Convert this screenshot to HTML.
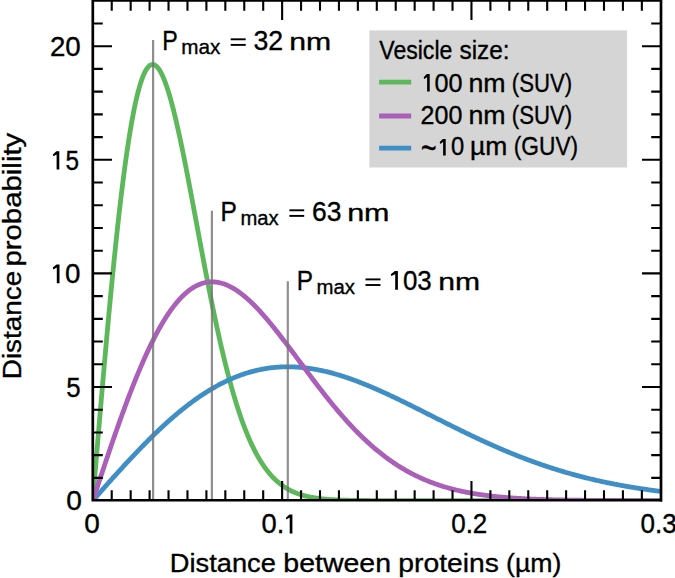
<!DOCTYPE html>
<html><head><meta charset="utf-8"><style>
html,body{margin:0;padding:0;background:#fff;}
body{width:675px;height:578px;overflow:hidden;font-family:"Liberation Sans",sans-serif;}
svg{display:block;}
</style></head><body>
<svg width="675" height="578" viewBox="0 0 675 578">
<rect width="675" height="578" fill="#fff"/>
<defs><clipPath id="pc"><rect x="92.8" y="0" width="568.2" height="500.3"/></clipPath></defs>
<g clip-path="url(#pc)">
<path d="M92.80,500.60 L93.75,489.23 L94.69,477.86 L95.64,466.51 L96.59,455.19 L97.53,443.90 L98.48,432.65 L99.43,421.45 L100.37,410.32 L101.32,399.25 L102.27,388.25 L103.21,377.34 L104.16,366.52 L105.11,355.80 L106.05,345.19 L107.00,334.69 L107.95,324.32 L108.89,314.07 L109.84,303.96 L110.79,294.00 L111.73,284.18 L112.68,274.53 L113.63,265.03 L114.57,255.71 L115.52,246.56 L116.47,237.59 L117.41,228.81 L118.36,220.23 L119.31,211.84 L120.25,203.65 L121.20,195.67 L122.15,187.90 L123.09,180.35 L124.04,173.02 L124.99,165.91 L125.93,159.03 L126.88,152.38 L127.83,145.97 L128.77,139.79 L129.72,133.84 L130.67,128.14 L131.61,122.68 L132.56,117.46 L133.51,112.49 L134.45,107.77 L135.40,103.29 L136.35,99.06 L137.29,95.08 L138.24,91.35 L139.19,87.87 L140.13,84.63 L141.08,81.64 L142.03,78.90 L142.97,76.40 L143.92,74.15 L144.87,72.14 L145.81,70.37 L146.76,68.84 L147.71,67.54 L148.65,66.48 L149.60,65.65 L150.55,65.05 L151.49,64.67 L152.44,64.52 L153.39,64.58 L154.33,64.86 L155.28,65.36 L156.23,66.06 L157.17,66.96 L158.12,68.07 L159.07,69.37 L160.01,70.86 L160.96,72.54 L161.91,74.40 L162.85,76.44 L163.80,78.65 L164.75,81.03 L165.69,83.57 L166.64,86.27 L167.59,89.13 L168.53,92.13 L169.48,95.28 L170.43,98.56 L171.37,101.98 L172.32,105.52 L173.27,109.19 L174.21,112.97 L175.16,116.86 L176.11,120.86 L177.05,124.96 L178.00,129.16 L178.95,133.45 L179.89,137.82 L180.84,142.27 L181.79,146.80 L182.73,151.39 L183.68,156.05 L184.63,160.78 L185.57,165.55 L186.52,170.38 L187.47,175.25 L188.41,180.16 L189.36,185.11 L190.30,190.09 L191.25,195.09 L192.20,200.12 L193.14,205.16 L194.09,210.22 L195.04,215.29 L195.98,220.37 L196.93,225.44 L197.88,230.52 L198.82,235.59 L199.77,240.65 L200.72,245.69 L201.66,250.72 L202.61,255.74 L203.56,260.72 L204.50,265.69 L205.45,270.62 L206.40,275.52 L207.34,280.39 L208.29,285.23 L209.24,290.02 L210.18,294.77 L211.13,299.48 L212.08,304.14 L213.02,308.75 L213.97,313.32 L214.92,317.83 L215.86,322.29 L216.81,326.69 L217.76,331.04 L218.70,335.33 L219.65,339.56 L220.60,343.73 L221.54,347.84 L222.49,351.89 L223.44,355.87 L224.38,359.79 L225.33,363.65 L226.28,367.43 L227.22,371.16 L228.17,374.82 L229.12,378.41 L230.06,381.93 L231.01,385.38 L231.96,388.77 L232.90,392.09 L233.85,395.35 L234.80,398.53 L235.74,401.65 L236.69,404.70 L237.64,407.69 L238.58,410.61 L239.53,413.46 L240.48,416.25 L241.42,418.97 L242.37,421.62 L243.32,424.22 L244.26,426.75 L245.21,429.21 L246.16,431.61 L247.10,433.96 L248.05,436.24 L249.00,438.46 L249.94,440.62 L250.89,442.72 L251.84,444.76 L252.78,446.75 L253.73,448.68 L254.68,450.56 L255.62,452.38 L256.57,454.15 L257.52,455.87 L258.46,457.54 L259.41,459.15 L260.36,460.72 L261.30,462.24 L262.25,463.71 L263.20,465.13 L264.14,466.51 L265.09,467.84 L266.04,469.14 L266.98,470.38 L267.93,471.59 L268.88,472.76 L269.82,473.89 L270.77,474.97 L271.72,476.03 L272.66,477.04 L273.61,478.02 L274.56,478.96 L275.50,479.87 L276.45,480.75 L277.40,481.60 L278.34,482.41 L279.29,483.20 L280.24,483.95 L281.18,484.68 L282.13,485.38 L283.08,486.05 L284.02,486.70 L284.97,487.32 L285.92,487.92 L286.86,488.49 L287.81,489.04 L288.76,489.57 L289.70,490.08 L290.65,490.57 L291.60,491.03 L292.54,491.48 L293.49,491.91 L294.44,492.32 L295.38,492.72 L296.33,493.09 L297.28,493.46 L298.22,493.80 L299.17,494.13 L300.12,494.45 L301.06,494.75 L302.01,495.04 L302.96,495.32 L303.90,495.58 L304.85,495.83 L305.80,496.07 L306.74,496.30 L307.69,496.52 L308.64,496.73 L309.58,496.93 L310.53,497.12 L311.48,497.30 L312.42,497.47 L313.37,497.64 L314.32,497.79 L315.26,497.94 L316.21,498.08 L317.16,498.22 L318.10,498.35 L319.05,498.47 L320.00,498.58 L320.94,498.69 L321.89,498.80 L322.84,498.90 L323.78,498.99 L324.73,499.08 L325.68,499.16 L326.62,499.24 L327.57,499.32 L328.52,499.39 L329.46,499.46 L330.41,499.53 L331.36,499.59 L332.30,499.65 L333.25,499.70 L334.20,499.75 L335.14,499.80 L336.09,499.85 L337.04,499.89 L337.98,499.94 L338.93,499.97 L339.88,500.01 L340.82,500.05 L341.77,500.08 L342.72,500.11 L343.66,500.14 L344.61,500.17 L345.56,500.20 L346.50,500.22 L347.45,500.24 L348.40,500.27 L349.34,500.29 L350.29,500.31 L351.24,500.32 L352.18,500.34 L353.13,500.36 L354.08,500.37 L355.02,500.39 L355.97,500.40 L356.92,500.41 L357.86,500.43 L358.81,500.44 L359.76,500.45 L360.70,500.46 L361.65,500.47 L362.60,500.48 L363.54,500.48 L364.49,500.49 L365.44,500.50 L366.38,500.51 L367.33,500.51 L368.28,500.52 L369.22,500.52 L370.17,500.53 L371.12,500.53 L372.06,500.54 L373.01,500.54 L373.96,500.55 L374.90,500.55 L375.85,500.55 L376.80,500.56 L377.74,500.56 L378.69,500.56 L379.63,500.56 L380.58,500.57 L381.53,500.57 L382.47,500.57 L383.42,500.57 L384.37,500.58 L385.31,500.58 L386.26,500.58 L387.21,500.58 L388.15,500.58 L389.10,500.58 L390.05,500.58 L390.99,500.59 L391.94,500.59 L392.89,500.59 L393.83,500.59 L394.78,500.59 L395.73,500.59 L396.67,500.59 L397.62,500.59 L398.57,500.59 L399.51,500.59 L400.46,500.59 L401.41,500.59 L402.35,500.59 L403.30,500.59 L404.25,500.60 L405.19,500.60 L406.14,500.60 L407.09,500.60 L408.03,500.60 L408.98,500.60 L409.93,500.60 L410.87,500.60 L411.82,500.60 L412.77,500.60 L413.71,500.60 L414.66,500.60 L415.61,500.60 L416.55,500.60 L417.50,500.60 L418.45,500.60 L419.39,500.60 L420.34,500.60 L421.29,500.60 L422.23,500.60 L423.18,500.60 L424.13,500.60 L425.07,500.60 L426.02,500.60 L426.97,500.60 L427.91,500.60 L428.86,500.60 L429.81,500.60 L430.75,500.60 L431.70,500.60 L432.65,500.60 L433.59,500.60 L434.54,500.60 L435.49,500.60 L436.43,500.60 L437.38,500.60 L438.33,500.60 L439.27,500.60 L440.22,500.60 L441.17,500.60 L442.11,500.60 L443.06,500.60 L444.01,500.60 L444.95,500.60 L445.90,500.60 L446.85,500.60 L447.79,500.60 L448.74,500.60 L449.69,500.60 L450.63,500.60 L451.58,500.60 L452.53,500.60 L453.47,500.60 L454.42,500.60 L455.37,500.60 L456.31,500.60 L457.26,500.60 L458.21,500.60 L459.15,500.60 L460.10,500.60 L461.05,500.60 L461.99,500.60 L462.94,500.60 L463.89,500.60 L464.83,500.60 L465.78,500.60 L466.73,500.60 L467.67,500.60 L468.62,500.60 L469.57,500.60 L470.51,500.60 L471.46,500.60 L472.41,500.60 L473.35,500.60 L474.30,500.60 L475.25,500.60 L476.19,500.60 L477.14,500.60 L478.09,500.60 L479.03,500.60 L479.98,500.60 L480.93,500.60 L481.87,500.60 L482.82,500.60 L483.77,500.60 L484.71,500.60 L485.66,500.60 L486.61,500.60 L487.55,500.60 L488.50,500.60 L489.45,500.60 L490.39,500.60 L491.34,500.60 L492.29,500.60 L493.23,500.60 L494.18,500.60 L495.13,500.60 L496.07,500.60 L497.02,500.60 L497.97,500.60 L498.91,500.60 L499.86,500.60 L500.81,500.60 L501.75,500.60 L502.70,500.60 L503.65,500.60 L504.59,500.60 L505.54,500.60 L506.49,500.60 L507.43,500.60 L508.38,500.60 L509.33,500.60 L510.27,500.60 L511.22,500.60 L512.17,500.60 L513.11,500.60 L514.06,500.60 L515.01,500.60 L515.95,500.60 L516.90,500.60 L517.85,500.60 L518.79,500.60 L519.74,500.60 L520.69,500.60 L521.63,500.60 L522.58,500.60 L523.53,500.60 L524.47,500.60 L525.42,500.60 L526.37,500.60 L527.31,500.60 L528.26,500.60 L529.21,500.60 L530.15,500.60 L531.10,500.60 L532.05,500.60 L532.99,500.60 L533.94,500.60 L534.89,500.60 L535.83,500.60 L536.78,500.60 L537.73,500.60 L538.67,500.60 L539.62,500.60 L540.57,500.60 L541.51,500.60 L542.46,500.60 L543.41,500.60 L544.35,500.60 L545.30,500.60 L546.25,500.60 L547.19,500.60 L548.14,500.60 L549.09,500.60 L550.03,500.60 L550.98,500.60 L551.93,500.60 L552.87,500.60 L553.82,500.60 L554.77,500.60 L555.71,500.60 L556.66,500.60 L557.61,500.60 L558.55,500.60 L559.50,500.60 L560.45,500.60 L561.39,500.60 L562.34,500.60 L563.29,500.60 L564.23,500.60 L565.18,500.60 L566.12,500.60 L567.07,500.60 L568.02,500.60 L568.96,500.60 L569.91,500.60 L570.86,500.60 L571.80,500.60 L572.75,500.60 L573.70,500.60 L574.64,500.60 L575.59,500.60 L576.54,500.60 L577.48,500.60 L578.43,500.60 L579.38,500.60 L580.32,500.60 L581.27,500.60 L582.22,500.60 L583.16,500.60 L584.11,500.60 L585.06,500.60 L586.00,500.60 L586.95,500.60 L587.90,500.60 L588.84,500.60 L589.79,500.60 L590.74,500.60 L591.68,500.60 L592.63,500.60 L593.58,500.60 L594.52,500.60 L595.47,500.60 L596.42,500.60 L597.36,500.60 L598.31,500.60 L599.26,500.60 L600.20,500.60 L601.15,500.60 L602.10,500.60 L603.04,500.60 L603.99,500.60 L604.94,500.60 L605.88,500.60 L606.83,500.60 L607.78,500.60 L608.72,500.60 L609.67,500.60 L610.62,500.60 L611.56,500.60 L612.51,500.60 L613.46,500.60 L614.40,500.60 L615.35,500.60 L616.30,500.60 L617.24,500.60 L618.19,500.60 L619.14,500.60 L620.08,500.60 L621.03,500.60 L621.98,500.60 L622.92,500.60 L623.87,500.60 L624.82,500.60 L625.76,500.60 L626.71,500.60 L627.66,500.60 L628.60,500.60 L629.55,500.60 L630.50,500.60 L631.44,500.60 L632.39,500.60 L633.34,500.60 L634.28,500.60 L635.23,500.60 L636.18,500.60 L637.12,500.60 L638.07,500.60 L639.02,500.60 L639.96,500.60 L640.91,500.60 L641.86,500.60 L642.80,500.60 L643.75,500.60 L644.70,500.60 L645.64,500.60 L646.59,500.60 L647.54,500.60 L648.48,500.60 L649.43,500.60 L650.38,500.60 L651.32,500.60 L652.27,500.60 L653.22,500.60 L654.16,500.60 L655.11,500.60 L656.06,500.60 L657.00,500.60 L657.95,500.60 L658.90,500.60 L659.84,500.60 L660.79,500.60" fill="none" stroke="#5cb85a" stroke-width="4.8" stroke-linejoin="round"/>
<path d="M92.80,500.60 L93.75,499.53 L94.69,498.46 L95.64,497.39 L96.59,496.32 L97.53,495.25 L98.48,494.18 L99.43,493.11 L100.37,492.04 L101.32,490.97 L102.27,489.90 L103.21,488.84 L104.16,487.77 L105.11,486.71 L106.05,485.64 L107.00,484.58 L107.95,483.52 L108.89,482.46 L109.84,481.40 L110.79,480.34 L111.73,479.28 L112.68,478.23 L113.63,477.18 L114.57,476.12 L115.52,475.07 L116.47,474.03 L117.41,472.98 L118.36,471.94 L119.31,470.89 L120.25,469.85 L121.20,468.82 L122.15,467.78 L123.09,466.75 L124.04,465.71 L124.99,464.69 L125.93,463.66 L126.88,462.64 L127.83,461.61 L128.77,460.60 L129.72,459.58 L130.67,458.57 L131.61,457.56 L132.56,456.55 L133.51,455.55 L134.45,454.55 L135.40,453.55 L136.35,452.56 L137.29,451.57 L138.24,450.58 L139.19,449.59 L140.13,448.61 L141.08,447.64 L142.03,446.66 L142.97,445.70 L143.92,444.73 L144.87,443.77 L145.81,442.81 L146.76,441.86 L147.71,440.91 L148.65,439.96 L149.60,439.02 L150.55,438.08 L151.49,437.15 L152.44,436.22 L153.39,435.30 L154.33,434.38 L155.28,433.46 L156.23,432.55 L157.17,431.65 L158.12,430.75 L159.07,429.85 L160.01,428.96 L160.96,428.07 L161.91,427.19 L162.85,426.31 L163.80,425.44 L164.75,424.57 L165.69,423.71 L166.64,422.86 L167.59,422.00 L168.53,421.16 L169.48,420.32 L170.43,419.48 L171.37,418.65 L172.32,417.83 L173.27,417.01 L174.21,416.20 L175.16,415.39 L176.11,414.59 L177.05,413.79 L178.00,413.00 L178.95,412.22 L179.89,411.44 L180.84,410.66 L181.79,409.90 L182.73,409.14 L183.68,408.38 L184.63,407.63 L185.57,406.89 L186.52,406.15 L187.47,405.42 L188.41,404.70 L189.36,403.98 L190.30,403.27 L191.25,402.56 L192.20,401.86 L193.14,401.17 L194.09,400.48 L195.04,399.80 L195.98,399.13 L196.93,398.46 L197.88,397.80 L198.82,397.15 L199.77,396.50 L200.72,395.86 L201.66,395.23 L202.61,394.60 L203.56,393.98 L204.50,393.37 L205.45,392.76 L206.40,392.16 L207.34,391.56 L208.29,390.98 L209.24,390.40 L210.18,389.82 L211.13,389.26 L212.08,388.70 L213.02,388.15 L213.97,387.60 L214.92,387.06 L215.86,386.53 L216.81,386.01 L217.76,385.49 L218.70,384.98 L219.65,384.47 L220.60,383.98 L221.54,383.49 L222.49,383.01 L223.44,382.53 L224.38,382.06 L225.33,381.60 L226.28,381.15 L227.22,380.70 L228.17,380.26 L229.12,379.83 L230.06,379.40 L231.01,378.99 L231.96,378.58 L232.90,378.17 L233.85,377.78 L234.80,377.39 L235.74,377.00 L236.69,376.63 L237.64,376.26 L238.58,375.90 L239.53,375.55 L240.48,375.20 L241.42,374.86 L242.37,374.53 L243.32,374.20 L244.26,373.89 L245.21,373.57 L246.16,373.27 L247.10,372.97 L248.05,372.69 L249.00,372.40 L249.94,372.13 L250.89,371.86 L251.84,371.60 L252.78,371.35 L253.73,371.10 L254.68,370.86 L255.62,370.63 L256.57,370.40 L257.52,370.18 L258.46,369.97 L259.41,369.77 L260.36,369.57 L261.30,369.38 L262.25,369.20 L263.20,369.02 L264.14,368.85 L265.09,368.69 L266.04,368.53 L266.98,368.39 L267.93,368.24 L268.88,368.11 L269.82,367.98 L270.77,367.86 L271.72,367.74 L272.66,367.64 L273.61,367.54 L274.56,367.44 L275.50,367.35 L276.45,367.27 L277.40,367.20 L278.34,367.13 L279.29,367.07 L280.24,367.01 L281.18,366.97 L282.13,366.92 L283.08,366.89 L284.02,366.86 L284.97,366.84 L285.92,366.82 L286.86,366.81 L287.81,366.81 L288.76,366.81 L289.70,366.82 L290.65,366.84 L291.60,366.86 L292.54,366.89 L293.49,366.92 L294.44,366.96 L295.38,367.01 L296.33,367.06 L297.28,367.12 L298.22,367.18 L299.17,367.25 L300.12,367.33 L301.06,367.41 L302.01,367.50 L302.96,367.59 L303.90,367.69 L304.85,367.80 L305.80,367.91 L306.74,368.03 L307.69,368.15 L308.64,368.28 L309.58,368.41 L310.53,368.55 L311.48,368.69 L312.42,368.84 L313.37,369.00 L314.32,369.16 L315.26,369.32 L316.21,369.50 L317.16,369.67 L318.10,369.85 L319.05,370.04 L320.00,370.23 L320.94,370.43 L321.89,370.63 L322.84,370.84 L323.78,371.05 L324.73,371.26 L325.68,371.49 L326.62,371.71 L327.57,371.94 L328.52,372.18 L329.46,372.42 L330.41,372.66 L331.36,372.91 L332.30,373.17 L333.25,373.42 L334.20,373.69 L335.14,373.95 L336.09,374.23 L337.04,374.50 L337.98,374.78 L338.93,375.07 L339.88,375.35 L340.82,375.65 L341.77,375.94 L342.72,376.24 L343.66,376.55 L344.61,376.86 L345.56,377.17 L346.50,377.48 L347.45,377.80 L348.40,378.13 L349.34,378.46 L350.29,378.79 L351.24,379.12 L352.18,379.46 L353.13,379.80 L354.08,380.15 L355.02,380.50 L355.97,380.85 L356.92,381.20 L357.86,381.56 L358.81,381.92 L359.76,382.29 L360.70,382.66 L361.65,383.03 L362.60,383.40 L363.54,383.78 L364.49,384.16 L365.44,384.54 L366.38,384.93 L367.33,385.32 L368.28,385.71 L369.22,386.11 L370.17,386.50 L371.12,386.90 L372.06,387.30 L373.01,387.71 L373.96,388.12 L374.90,388.53 L375.85,388.94 L376.80,389.35 L377.74,389.77 L378.69,390.19 L379.63,390.61 L380.58,391.03 L381.53,391.46 L382.47,391.89 L383.42,392.32 L384.37,392.75 L385.31,393.18 L386.26,393.62 L387.21,394.05 L388.15,394.49 L389.10,394.93 L390.05,395.38 L390.99,395.82 L391.94,396.27 L392.89,396.71 L393.83,397.16 L394.78,397.61 L395.73,398.07 L396.67,398.52 L397.62,398.97 L398.57,399.43 L399.51,399.89 L400.46,400.35 L401.41,400.81 L402.35,401.27 L403.30,401.73 L404.25,402.19 L405.19,402.66 L406.14,403.12 L407.09,403.59 L408.03,404.06 L408.98,404.52 L409.93,404.99 L410.87,405.46 L411.82,405.93 L412.77,406.40 L413.71,406.88 L414.66,407.35 L415.61,407.82 L416.55,408.30 L417.50,408.77 L418.45,409.25 L419.39,409.72 L420.34,410.20 L421.29,410.67 L422.23,411.15 L423.18,411.63 L424.13,412.10 L425.07,412.58 L426.02,413.06 L426.97,413.53 L427.91,414.01 L428.86,414.49 L429.81,414.97 L430.75,415.45 L431.70,415.92 L432.65,416.40 L433.59,416.88 L434.54,417.36 L435.49,417.83 L436.43,418.31 L437.38,418.79 L438.33,419.27 L439.27,419.74 L440.22,420.22 L441.17,420.69 L442.11,421.17 L443.06,421.64 L444.01,422.12 L444.95,422.59 L445.90,423.07 L446.85,423.54 L447.79,424.01 L448.74,424.49 L449.69,424.96 L450.63,425.43 L451.58,425.90 L452.53,426.37 L453.47,426.84 L454.42,427.31 L455.37,427.77 L456.31,428.24 L457.26,428.71 L458.21,429.17 L459.15,429.64 L460.10,430.10 L461.05,430.56 L461.99,431.02 L462.94,431.48 L463.89,431.94 L464.83,432.40 L465.78,432.86 L466.73,433.32 L467.67,433.77 L468.62,434.23 L469.57,434.68 L470.51,435.13 L471.46,435.58 L472.41,436.03 L473.35,436.48 L474.30,436.93 L475.25,437.37 L476.19,437.82 L477.14,438.26 L478.09,438.70 L479.03,439.14 L479.98,439.58 L480.93,440.02 L481.87,440.46 L482.82,440.89 L483.77,441.33 L484.71,441.76 L485.66,442.19 L486.61,442.62 L487.55,443.05 L488.50,443.48 L489.45,443.90 L490.39,444.33 L491.34,444.75 L492.29,445.17 L493.23,445.59 L494.18,446.01 L495.13,446.42 L496.07,446.84 L497.02,447.25 L497.97,447.66 L498.91,448.07 L499.86,448.48 L500.81,448.88 L501.75,449.29 L502.70,449.69 L503.65,450.09 L504.59,450.49 L505.54,450.89 L506.49,451.28 L507.43,451.68 L508.38,452.07 L509.33,452.46 L510.27,452.85 L511.22,453.24 L512.17,453.62 L513.11,454.01 L514.06,454.39 L515.01,454.77 L515.95,455.15 L516.90,455.52 L517.85,455.90 L518.79,456.27 L519.74,456.64 L520.69,457.01 L521.63,457.37 L522.58,457.74 L523.53,458.10 L524.47,458.46 L525.42,458.82 L526.37,459.18 L527.31,459.54 L528.26,459.89 L529.21,460.24 L530.15,460.59 L531.10,460.94 L532.05,461.29 L532.99,461.63 L533.94,461.97 L534.89,462.31 L535.83,462.65 L536.78,462.99 L537.73,463.32 L538.67,463.66 L539.62,463.99 L540.57,464.31 L541.51,464.64 L542.46,464.97 L543.41,465.29 L544.35,465.61 L545.30,465.93 L546.25,466.25 L547.19,466.56 L548.14,466.87 L549.09,467.19 L550.03,467.49 L550.98,467.80 L551.93,468.11 L552.87,468.41 L553.82,468.71 L554.77,469.01 L555.71,469.31 L556.66,469.60 L557.61,469.90 L558.55,470.19 L559.50,470.48 L560.45,470.77 L561.39,471.05 L562.34,471.34 L563.29,471.62 L564.23,471.90 L565.18,472.18 L566.12,472.45 L567.07,472.73 L568.02,473.00 L568.96,473.27 L569.91,473.54 L570.86,473.81 L571.80,474.07 L572.75,474.33 L573.70,474.60 L574.64,474.86 L575.59,475.11 L576.54,475.37 L577.48,475.62 L578.43,475.87 L579.38,476.12 L580.32,476.37 L581.27,476.62 L582.22,476.86 L583.16,477.10 L584.11,477.34 L585.06,477.58 L586.00,477.82 L586.95,478.05 L587.90,478.29 L588.84,478.52 L589.79,478.75 L590.74,478.98 L591.68,479.20 L592.63,479.43 L593.58,479.65 L594.52,479.87 L595.47,480.09 L596.42,480.31 L597.36,480.52 L598.31,480.74 L599.26,480.95 L600.20,481.16 L601.15,481.37 L602.10,481.57 L603.04,481.78 L603.99,481.98 L604.94,482.18 L605.88,482.38 L606.83,482.58 L607.78,482.78 L608.72,482.97 L609.67,483.17 L610.62,483.36 L611.56,483.55 L612.51,483.73 L613.46,483.92 L614.40,484.11 L615.35,484.29 L616.30,484.47 L617.24,484.65 L618.19,484.83 L619.14,485.01 L620.08,485.18 L621.03,485.36 L621.98,485.53 L622.92,485.70 L623.87,485.87 L624.82,486.04 L625.76,486.20 L626.71,486.37 L627.66,486.53 L628.60,486.69 L629.55,486.85 L630.50,487.01 L631.44,487.17 L632.39,487.32 L633.34,487.48 L634.28,487.63 L635.23,487.78 L636.18,487.93 L637.12,488.08 L638.07,488.23 L639.02,488.37 L639.96,488.52 L640.91,488.66 L641.86,488.80 L642.80,488.94 L643.75,489.08 L644.70,489.22 L645.64,489.36 L646.59,489.49 L647.54,489.62 L648.48,489.76 L649.43,489.89 L650.38,490.02 L651.32,490.15 L652.27,490.27 L653.22,490.40 L654.16,490.52 L655.11,490.65 L656.06,490.77 L657.00,490.89 L657.95,491.01 L658.90,491.13 L659.84,491.24 L660.79,491.36" fill="none" stroke="#3f8fc6" stroke-width="4.8" stroke-linejoin="round"/>
<path d="M92.80,500.60 L93.75,497.74 L94.69,494.88 L95.64,492.02 L96.59,489.16 L97.53,486.30 L98.48,483.45 L99.43,480.60 L100.37,477.75 L101.32,474.91 L102.27,472.07 L103.21,469.24 L104.16,466.41 L105.11,463.59 L106.05,460.78 L107.00,457.97 L107.95,455.17 L108.89,452.38 L109.84,449.60 L110.79,446.83 L111.73,444.07 L112.68,441.32 L113.63,438.58 L114.57,435.86 L115.52,433.14 L116.47,430.44 L117.41,427.75 L118.36,425.08 L119.31,422.41 L120.25,419.77 L121.20,417.13 L122.15,414.52 L123.09,411.92 L124.04,409.33 L124.99,406.77 L125.93,404.21 L126.88,401.68 L127.83,399.17 L128.77,396.67 L129.72,394.20 L130.67,391.74 L131.61,389.30 L132.56,386.88 L133.51,384.49 L134.45,382.11 L135.40,379.76 L136.35,377.43 L137.29,375.12 L138.24,372.83 L139.19,370.57 L140.13,368.33 L141.08,366.11 L142.03,363.92 L142.97,361.75 L143.92,359.60 L144.87,357.49 L145.81,355.39 L146.76,353.32 L147.71,351.28 L148.65,349.27 L149.60,347.28 L150.55,345.31 L151.49,343.38 L152.44,341.47 L153.39,339.59 L154.33,337.74 L155.28,335.91 L156.23,334.12 L157.17,332.35 L158.12,330.61 L159.07,328.90 L160.01,327.22 L160.96,325.57 L161.91,323.94 L162.85,322.35 L163.80,320.79 L164.75,319.25 L165.69,317.75 L166.64,316.28 L167.59,314.84 L168.53,313.42 L169.48,312.04 L170.43,310.69 L171.37,309.37 L172.32,308.08 L173.27,306.83 L174.21,305.60 L175.16,304.40 L176.11,303.24 L177.05,302.11 L178.00,301.00 L178.95,299.93 L179.89,298.89 L180.84,297.89 L181.79,296.91 L182.73,295.97 L183.68,295.05 L184.63,294.17 L185.57,293.32 L186.52,292.50 L187.47,291.71 L188.41,290.95 L189.36,290.22 L190.30,289.53 L191.25,288.87 L192.20,288.23 L193.14,287.63 L194.09,287.06 L195.04,286.52 L195.98,286.01 L196.93,285.53 L197.88,285.08 L198.82,284.66 L199.77,284.27 L200.72,283.91 L201.66,283.58 L202.61,283.28 L203.56,283.00 L204.50,282.76 L205.45,282.55 L206.40,282.37 L207.34,282.21 L208.29,282.09 L209.24,281.99 L210.18,281.92 L211.13,281.88 L212.08,281.86 L213.02,281.88 L213.97,281.92 L214.92,281.99 L215.86,282.08 L216.81,282.20 L217.76,282.35 L218.70,282.53 L219.65,282.73 L220.60,282.95 L221.54,283.20 L222.49,283.48 L223.44,283.78 L224.38,284.11 L225.33,284.46 L226.28,284.83 L227.22,285.23 L228.17,285.65 L229.12,286.09 L230.06,286.56 L231.01,287.05 L231.96,287.56 L232.90,288.10 L233.85,288.65 L234.80,289.23 L235.74,289.83 L236.69,290.45 L237.64,291.09 L238.58,291.75 L239.53,292.43 L240.48,293.13 L241.42,293.85 L242.37,294.58 L243.32,295.34 L244.26,296.11 L245.21,296.90 L246.16,297.71 L247.10,298.54 L248.05,299.38 L249.00,300.24 L249.94,301.12 L250.89,302.01 L251.84,302.92 L252.78,303.84 L253.73,304.78 L254.68,305.73 L255.62,306.70 L256.57,307.68 L257.52,308.67 L258.46,309.68 L259.41,310.70 L260.36,311.73 L261.30,312.78 L262.25,313.83 L263.20,314.90 L264.14,315.98 L265.09,317.07 L266.04,318.17 L266.98,319.28 L267.93,320.40 L268.88,321.53 L269.82,322.67 L270.77,323.82 L271.72,324.98 L272.66,326.14 L273.61,327.32 L274.56,328.50 L275.50,329.69 L276.45,330.88 L277.40,332.09 L278.34,333.29 L279.29,334.51 L280.24,335.73 L281.18,336.96 L282.13,338.19 L283.08,339.42 L284.02,340.66 L284.97,341.91 L285.92,343.16 L286.86,344.41 L287.81,345.67 L288.76,346.93 L289.70,348.19 L290.65,349.46 L291.60,350.72 L292.54,351.99 L293.49,353.27 L294.44,354.54 L295.38,355.81 L296.33,357.09 L297.28,358.37 L298.22,359.64 L299.17,360.92 L300.12,362.20 L301.06,363.47 L302.01,364.75 L302.96,366.03 L303.90,367.30 L304.85,368.58 L305.80,369.85 L306.74,371.12 L307.69,372.39 L308.64,373.66 L309.58,374.92 L310.53,376.18 L311.48,377.44 L312.42,378.70 L313.37,379.96 L314.32,381.21 L315.26,382.46 L316.21,383.70 L317.16,384.94 L318.10,386.18 L319.05,387.41 L320.00,388.64 L320.94,389.86 L321.89,391.08 L322.84,392.29 L323.78,393.50 L324.73,394.71 L325.68,395.91 L326.62,397.10 L327.57,398.29 L328.52,399.47 L329.46,400.65 L330.41,401.82 L331.36,402.99 L332.30,404.15 L333.25,405.30 L334.20,406.44 L335.14,407.58 L336.09,408.72 L337.04,409.84 L337.98,410.96 L338.93,412.08 L339.88,413.18 L340.82,414.28 L341.77,415.37 L342.72,416.46 L343.66,417.53 L344.61,418.60 L345.56,419.66 L346.50,420.72 L347.45,421.77 L348.40,422.80 L349.34,423.84 L350.29,424.86 L351.24,425.87 L352.18,426.88 L353.13,427.88 L354.08,428.87 L355.02,429.85 L355.97,430.83 L356.92,431.80 L357.86,432.75 L358.81,433.70 L359.76,434.65 L360.70,435.58 L361.65,436.50 L362.60,437.42 L363.54,438.33 L364.49,439.23 L365.44,440.12 L366.38,441.00 L367.33,441.88 L368.28,442.74 L369.22,443.60 L370.17,444.45 L371.12,445.29 L372.06,446.12 L373.01,446.95 L373.96,447.76 L374.90,448.57 L375.85,449.36 L376.80,450.15 L377.74,450.94 L378.69,451.71 L379.63,452.47 L380.58,453.23 L381.53,453.97 L382.47,454.71 L383.42,455.44 L384.37,456.16 L385.31,456.88 L386.26,457.58 L387.21,458.28 L388.15,458.97 L389.10,459.65 L390.05,460.32 L390.99,460.99 L391.94,461.64 L392.89,462.29 L393.83,462.93 L394.78,463.56 L395.73,464.19 L396.67,464.80 L397.62,465.41 L398.57,466.01 L399.51,466.61 L400.46,467.19 L401.41,467.77 L402.35,468.34 L403.30,468.90 L404.25,469.45 L405.19,470.00 L406.14,470.54 L407.09,471.07 L408.03,471.60 L408.98,472.12 L409.93,472.63 L410.87,473.13 L411.82,473.62 L412.77,474.11 L413.71,474.60 L414.66,475.07 L415.61,475.54 L416.55,476.00 L417.50,476.46 L418.45,476.90 L419.39,477.34 L420.34,477.78 L421.29,478.21 L422.23,478.63 L423.18,479.04 L424.13,479.45 L425.07,479.86 L426.02,480.25 L426.97,480.64 L427.91,481.03 L428.86,481.40 L429.81,481.78 L430.75,482.14 L431.70,482.50 L432.65,482.86 L433.59,483.21 L434.54,483.55 L435.49,483.89 L436.43,484.22 L437.38,484.55 L438.33,484.87 L439.27,485.18 L440.22,485.49 L441.17,485.80 L442.11,486.10 L443.06,486.40 L444.01,486.69 L444.95,486.97 L445.90,487.25 L446.85,487.53 L447.79,487.80 L448.74,488.06 L449.69,488.32 L450.63,488.58 L451.58,488.83 L452.53,489.08 L453.47,489.32 L454.42,489.56 L455.37,489.80 L456.31,490.03 L457.26,490.25 L458.21,490.48 L459.15,490.69 L460.10,490.91 L461.05,491.12 L461.99,491.32 L462.94,491.53 L463.89,491.72 L464.83,491.92 L465.78,492.11 L466.73,492.30 L467.67,492.48 L468.62,492.66 L469.57,492.84 L470.51,493.01 L471.46,493.18 L472.41,493.35 L473.35,493.51 L474.30,493.67 L475.25,493.83 L476.19,493.98 L477.14,494.13 L478.09,494.28 L479.03,494.43 L479.98,494.57 L480.93,494.71 L481.87,494.84 L482.82,494.98 L483.77,495.11 L484.71,495.24 L485.66,495.36 L486.61,495.49 L487.55,495.61 L488.50,495.72 L489.45,495.84 L490.39,495.95 L491.34,496.06 L492.29,496.17 L493.23,496.28 L494.18,496.38 L495.13,496.48 L496.07,496.58 L497.02,496.68 L497.97,496.78 L498.91,496.87 L499.86,496.96 L500.81,497.05 L501.75,497.14 L502.70,497.22 L503.65,497.30 L504.59,497.39 L505.54,497.47 L506.49,497.54 L507.43,497.62 L508.38,497.69 L509.33,497.77 L510.27,497.84 L511.22,497.91 L512.17,497.98 L513.11,498.04 L514.06,498.11 L515.01,498.17 L515.95,498.23 L516.90,498.29 L517.85,498.35 L518.79,498.41 L519.74,498.47 L520.69,498.52 L521.63,498.58 L522.58,498.63 L523.53,498.68 L524.47,498.73 L525.42,498.78 L526.37,498.83 L527.31,498.87 L528.26,498.92 L529.21,498.96 L530.15,499.01 L531.10,499.05 L532.05,499.09 L532.99,499.13 L533.94,499.17 L534.89,499.21 L535.83,499.25 L536.78,499.28 L537.73,499.32 L538.67,499.35 L539.62,499.39 L540.57,499.42 L541.51,499.45 L542.46,499.48 L543.41,499.52 L544.35,499.55 L545.30,499.57 L546.25,499.60 L547.19,499.63 L548.14,499.66 L549.09,499.68 L550.03,499.71 L550.98,499.73 L551.93,499.76 L552.87,499.78 L553.82,499.81 L554.77,499.83 L555.71,499.85 L556.66,499.87 L557.61,499.89 L558.55,499.91 L559.50,499.93 L560.45,499.95 L561.39,499.97 L562.34,499.99 L563.29,500.00 L564.23,500.02 L565.18,500.04 L566.12,500.06 L567.07,500.07 L568.02,500.09 L568.96,500.10 L569.91,500.12 L570.86,500.13 L571.80,500.14 L572.75,500.16 L573.70,500.17 L574.64,500.18 L575.59,500.20 L576.54,500.21 L577.48,500.22 L578.43,500.23 L579.38,500.24 L580.32,500.25 L581.27,500.26 L582.22,500.27 L583.16,500.28 L584.11,500.29 L585.06,500.30 L586.00,500.31 L586.95,500.32 L587.90,500.33 L588.84,500.34 L589.79,500.34 L590.74,500.35 L591.68,500.36 L592.63,500.37 L593.58,500.37 L594.52,500.38 L595.47,500.39 L596.42,500.40 L597.36,500.40 L598.31,500.41 L599.26,500.41 L600.20,500.42 L601.15,500.43 L602.10,500.43 L603.04,500.44 L603.99,500.44 L604.94,500.45 L605.88,500.45 L606.83,500.46 L607.78,500.46 L608.72,500.46 L609.67,500.47 L610.62,500.47 L611.56,500.48 L612.51,500.48 L613.46,500.49 L614.40,500.49 L615.35,500.49 L616.30,500.50 L617.24,500.50 L618.19,500.50 L619.14,500.51 L620.08,500.51 L621.03,500.51 L621.98,500.51 L622.92,500.52 L623.87,500.52 L624.82,500.52 L625.76,500.53 L626.71,500.53 L627.66,500.53 L628.60,500.53 L629.55,500.53 L630.50,500.54 L631.44,500.54 L632.39,500.54 L633.34,500.54 L634.28,500.55 L635.23,500.55 L636.18,500.55 L637.12,500.55 L638.07,500.55 L639.02,500.55 L639.96,500.56 L640.91,500.56 L641.86,500.56 L642.80,500.56 L643.75,500.56 L644.70,500.56 L645.64,500.56 L646.59,500.57 L647.54,500.57 L648.48,500.57 L649.43,500.57 L650.38,500.57 L651.32,500.57 L652.27,500.57 L653.22,500.57 L654.16,500.57 L655.11,500.57 L656.06,500.58 L657.00,500.58 L657.95,500.58 L658.90,500.58 L659.84,500.58 L660.79,500.58" fill="none" stroke="#aa60b8" stroke-width="4.8" stroke-linejoin="round"/>
</g>
<line x1="153.10" y1="40.0" x2="153.10" y2="500" stroke="#737373" stroke-width="2.2" stroke-opacity="0.8"/>
<line x1="211.90" y1="210.7" x2="211.90" y2="500" stroke="#737373" stroke-width="2.2" stroke-opacity="0.8"/>
<line x1="287.80" y1="281.2" x2="287.80" y2="500" stroke="#737373" stroke-width="2.2" stroke-opacity="0.8"/>
<path d="M111.73,500 v-9.8 M111.73,1 v9.8 M130.67,500 v-9.8 M130.67,1 v9.8 M149.60,500 v-9.8 M149.60,1 v9.8 M168.53,500 v-9.8 M168.53,1 v9.8 M187.47,500 v-9.8 M187.47,1 v9.8 M206.40,500 v-9.8 M206.40,1 v9.8 M225.33,500 v-9.8 M225.33,1 v9.8 M244.26,500 v-9.8 M244.26,1 v9.8 M263.20,500 v-9.8 M263.20,1 v9.8 M282.13,500 v-19 M282.13,1 v19 M301.06,500 v-9.8 M301.06,1 v9.8 M320.00,500 v-9.8 M320.00,1 v9.8 M338.93,500 v-9.8 M338.93,1 v9.8 M357.86,500 v-9.8 M357.86,1 v9.8 M376.80,500 v-9.8 M376.80,1 v9.8 M395.73,500 v-9.8 M395.73,1 v9.8 M414.66,500 v-9.8 M414.66,1 v9.8 M433.59,500 v-9.8 M433.59,1 v9.8 M452.53,500 v-9.8 M452.53,1 v9.8 M471.46,500 v-19 M471.46,1 v19 M490.39,500 v-9.8 M490.39,1 v9.8 M509.33,500 v-9.8 M509.33,1 v9.8 M528.26,500 v-9.8 M528.26,1 v9.8 M547.19,500 v-9.8 M547.19,1 v9.8 M566.12,500 v-9.8 M566.12,1 v9.8 M585.06,500 v-9.8 M585.06,1 v9.8 M603.99,500 v-9.8 M603.99,1 v9.8 M622.92,500 v-9.8 M622.92,1 v9.8 M641.86,500 v-9.8 M641.86,1 v9.8 M93,477.88 h9.8 M661,477.88 h-9.8 M93,455.16 h9.8 M661,455.16 h-9.8 M93,432.44 h9.8 M661,432.44 h-9.8 M93,409.72 h9.8 M661,409.72 h-9.8 M93,387.00 h19 M661,387.00 h-19 M93,364.28 h9.8 M661,364.28 h-9.8 M93,341.56 h9.8 M661,341.56 h-9.8 M93,318.84 h9.8 M661,318.84 h-9.8 M93,296.12 h9.8 M661,296.12 h-9.8 M93,273.40 h19 M661,273.40 h-19 M93,250.68 h9.8 M661,250.68 h-9.8 M93,227.96 h9.8 M661,227.96 h-9.8 M93,205.24 h9.8 M661,205.24 h-9.8 M93,182.52 h9.8 M661,182.52 h-9.8 M93,159.80 h19 M661,159.80 h-19 M93,137.08 h9.8 M661,137.08 h-9.8 M93,114.36 h9.8 M661,114.36 h-9.8 M93,91.64 h9.8 M661,91.64 h-9.8 M93,68.92 h9.8 M661,68.92 h-9.8 M93,46.20 h19 M661,46.20 h-19 M93,23.48 h9.8 M661,23.48 h-9.8" stroke="#000" stroke-width="2.1" fill="none"/>
<path d="M92.8,0 V500.25 M91.5,500.25 H662.1 M661,0 V501.7 M91.5,0.4 H662.1" stroke="#000" stroke-width="2.7" fill="none"/>
<rect x="369.4" y="30.4" width="257.7" height="137.1" fill="#d5d5d5"/>
<line x1="379.1" y1="82.1" x2="411.2" y2="82.1" stroke="#5cb85a" stroke-width="4.8"/>
<line x1="379.1" y1="116.0" x2="411.2" y2="116.0" stroke="#aa60b8" stroke-width="4.8"/>
<line x1="379.1" y1="148.2" x2="411.2" y2="148.2" stroke="#3f8fc6" stroke-width="4.8"/>
<g font-family="'Liberation Sans', sans-serif" fill="#000" stroke="#000" stroke-width="0.35">
<text transform="translate(379.27,59.00) scale(0.8943,1)" font-size="25.8">Vesicle</text>
<text transform="translate(459.50,59.00) scale(0.9455,1)" font-size="25.8">size:</text>
<text transform="translate(434.59,91.50) scale(0.9763,1)" font-size="25.8">00</text>
<text transform="translate(468.40,91.50) scale(1.0377,1)" font-size="25.8">nm</text>
<text transform="translate(511.80,91.50) scale(0.8600,1)" font-size="25.8">(SUV)</text>
<text transform="translate(420.62,123.80) scale(0.9708,1)" font-size="25.8">200</text>
<text transform="translate(468.40,123.80) scale(1.0377,1)" font-size="25.8">nm</text>
<text transform="translate(511.80,123.80) scale(0.8600,1)" font-size="25.8">(SUV)</text>
<text transform="translate(451.05,155.40) scale(0.9203,1)" font-size="25.8">0</text>
<text transform="translate(469.97,155.40) scale(1.0261,1)" font-size="25.8">µm</text>
<text transform="translate(513.76,155.40) scale(0.8821,1)" font-size="25.8">(GUV)</text>
<path d="M426.80,74.10 L429.70,74.10 L429.70,91.40 L427.10,91.40 L427.10,77.20 L424.20,79.10 L423.70,77.30 Z" stroke="none"/>
<path d="M442.80,138.90 L445.70,138.90 L445.70,155.50 L443.10,155.50 L443.10,142.00 L440.20,143.90 L439.70,142.10 Z" stroke="none"/>
<text transform="translate(420.88,160.30) scale(1.0315,1.3900)" font-size="25.8">~</text>
<text transform="translate(49.88,56.20) scale(1.0078,1)" font-size="27.5">20</text>
<path d="M56.30,151.30 L59.30,151.30 L59.30,169.40 L56.60,169.40 L56.60,154.40 L53.40,156.30 L52.90,154.50 Z" stroke="none"/>
<text transform="translate(65.60,169.50) scale(0.8858,1)" font-size="27.5">5</text>
<path d="M56.50,264.40 L59.50,264.40 L59.50,283.30 L56.80,283.30 L56.80,267.50 L53.30,269.40 L52.80,267.60 Z" stroke="none"/>
<text transform="translate(64.99,283.40) scale(1.0079,1)" font-size="27.5">0</text>
<text transform="translate(66.34,396.90) scale(0.9395,1)" font-size="27.5">5</text>
<text transform="translate(66.18,510.30) scale(1.0231,1)" font-size="27.5">0</text>
<text transform="translate(84.18,533.40) scale(1.0155,1)" font-size="27.5">0</text>
<text transform="translate(261.51,533.40) scale(0.9949,1)" font-size="27.5">0.</text>
<path d="M289.40,514.50 L292.40,514.50 L292.40,533.40 L289.70,533.40 L289.70,517.60 L286.40,519.50 L285.90,517.70 Z" stroke="none"/>
<text transform="translate(451.16,533.40) scale(0.9463,1)" font-size="27.5">0.2</text>
<text transform="translate(640.46,533.40) scale(0.9473,1)" font-size="27.5">0.3</text>
<text transform="translate(169.84,571.60) scale(1.0281,1)" font-size="26.5">Distance</text>
<text transform="translate(283.34,571.60) scale(1.0753,1)" font-size="26.5">between</text>
<text transform="translate(398.35,571.60) scale(1.0681,1)" font-size="26.5">proteins</text>
<text transform="translate(506.12,571.60) scale(1.0067,1)" font-size="26.5">(µm)</text>
<text transform="translate(162.37,49.60) scale(0.8438,1)" font-size="27.5">P</text>
<text transform="translate(181.30,54.20) scale(0.9963,1)" font-size="20.8">max</text>
<rect x="230.70" y="38.35" width="15.00" height="1.9" stroke="none"/>
<rect x="230.70" y="43.95" width="15.00" height="1.9" stroke="none"/>
<text transform="translate(253.46,49.60) scale(0.9713,1)" font-size="27.5">32</text>
<text transform="translate(289.17,49.60) scale(1.2581,1)" font-size="24.0">nm</text>
<text transform="translate(220.46,220.60) scale(0.8916,1)" font-size="27.5">P</text>
<text transform="translate(240.53,225.00) scale(0.9724,1)" font-size="20.8">max</text>
<rect x="289.40" y="209.35" width="14.80" height="1.9" stroke="none"/>
<rect x="289.40" y="214.95" width="14.80" height="1.9" stroke="none"/>
<text transform="translate(312.03,220.60) scale(0.9631,1)" font-size="27.5">63</text>
<text transform="translate(347.15,220.60) scale(1.2714,1)" font-size="24.0">nm</text>
<text transform="translate(296.68,289.70) scale(0.8848,1)" font-size="27.5">P</text>
<text transform="translate(316.42,294.20) scale(0.9804,1)" font-size="20.8">max</text>
<rect x="365.50" y="278.45" width="15.00" height="1.9" stroke="none"/>
<rect x="365.50" y="284.05" width="15.00" height="1.9" stroke="none"/>
<path d="M394.90,271.10 L397.90,271.10 L397.90,289.70 L395.20,289.70 L395.20,274.20 L391.30,276.10 L390.80,274.30 Z" stroke="none"/>
<text transform="translate(402.96,289.70) scale(0.9415,1)" font-size="27.5">03</text>
<text transform="translate(438.18,289.70) scale(1.2548,1)" font-size="24.0">nm</text>
<g transform="translate(21,377.1) rotate(-90)"><text transform="translate(-2.11,0) scale(1.0521,1)" font-size="26.5">Distance</text></g>
<g transform="translate(21,264.9) rotate(-90)"><text transform="translate(-1.72,0) scale(1.1085,1)" font-size="26.5">probability</text></g>
</g>
</svg>
</body></html>
